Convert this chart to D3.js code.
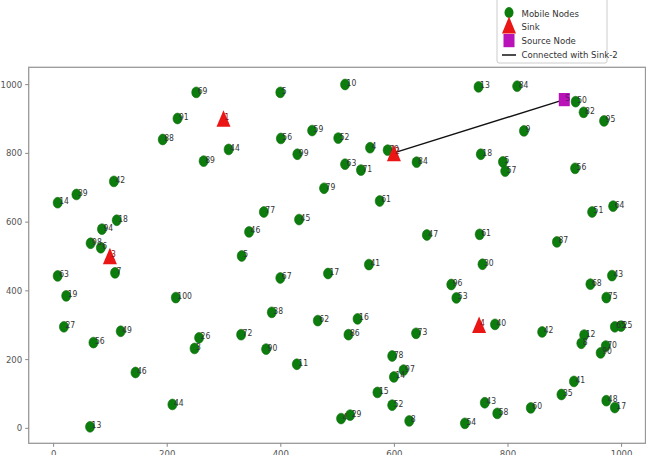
<!DOCTYPE html>
<html>
<head>
<meta charset="utf-8">
<script src="https://cdn.jsdelivr.net/npm/d3@7"></script>
<style>
  body { margin: 0; background: #fff; }
  text { font-family: "Liberation Sans Narrow", "DejaVu Sans Condensed", "Liberation Sans", sans-serif; }
</style>
</head>
<body>
<div id="chart"></div>
<script>
// mobile nodes
const nodeX = [65, 210, 145, 71, 19, 119, 23, 8, 109, 216, 257, 249,
  8, 41, 107, 112, 86, 66, 84, 252, 219, 193, 265,
  400, 514, 309, 401, 456, 430, 502, 558, 589, 514, 542, 477, 575, 371, 433, 345, 332,
  749, 817, 920, 934, 970, 829, 640, 753, 792, 796, 919, 949, 986, 658, 751, 887,
  400, 484, 556, 385, 466, 536, 520, 331, 375, 429, 597, 617, 600, 571, 597, 507, 523, 627, 639,
  756, 701, 710, 778, 861, 935, 930, 973, 964, 984, 946, 974, 989, 1000, 917, 895, 974, 989, 760, 782, 841, 725];
const nodeY = [3, 68, 161, 248, 294, 281, 384, 442, 451, 379, 262, 231,
  655, 679, 717, 604, 578, 537, 524, 976, 900, 839, 776,
  976, 999, 810, 842, 865, 796, 843, 815, 808, 767, 750, 697, 660, 628, 606, 570, 500,
  992, 994, 949, 918, 893, 864, 773, 796, 774, 747, 755, 628, 645, 561, 563, 541,
  436, 449, 475, 336, 312, 317, 271, 271, 229, 185, 209, 168, 148, 103, 66, 27, 37, 20, 275,
  476, 417, 378, 301, 279, 270, 246, 238, 218, 443, 418, 379, 294, 296, 135, 97, 79, 59, 73, 42, 58, 13];
const nodeLabels = ["13", "44", "46", "56", "27", "49", "19", "63", "7", "100", "26", "3",
  "14", "39", "42", "18", "94", "98", "6", "69", "91", "88", "89",
  "5", "10", "44", "56", "59", "99", "52", "4", "70", "63", "71", "79", "61", "77", "45", "46", "5",
  "13", "84", "50", "82", "95", "9", "84", "18", "5", "57", "56", "51", "64", "47", "61", "87",
  "67", "17", "41", "38", "62", "16", "86", "72", "90", "11", "78", "97", "14", "15", "52", "4", "29", "8", "73",
  "30", "96", "53", "40", "42", "12", "8", "70", "90", "43", "68", "75", "65", "25", "41", "35", "48", "17", "43", "58", "60", "54"];

// sinks and source
const sinkX = [300, 600, 100, 750];
const sinkY = [900, 800, 500, 300];
const sinkLabels = ["1", "2", "3", "4"];
const sourceX = [900];
const sourceY = [955];
const sourceLabels = ["S"];

// axis ticks
const xTicks = [0, 200, 400, 600, 800, 1000];
const yTicks = [0, 200, 400, 600, 800, 1000];

const legendLabels = ["Mobile Nodes", "Sink", "Source Node", "Connected with Sink-2"];

const width = 646, height = 455;

var svg = d3.select("#chart").append("svg")
  .attr("width", width)
  .attr("height", height);

var x = d3.scaleLinear().domain([-43, 1043]).range([28.7, 645.5]);
var y = d3.scaleLinear().domain([-45, 1049]).range([443.3, 67.3]);

// frame
svg.append("rect")
  .attr("x", x.range()[0]).attr("y", y.range()[1])
  .attr("width", x.range()[1] - x.range()[0])
  .attr("height", y.range()[0] - y.range()[1])
  .attr("fill", "none")
  .attr("stroke", "#999")
  .attr("stroke-width", 1.3);

// axes
var xAxis = svg.append("g")
  .attr("transform", "translate(0," + y.range()[0] + ")")
  .call(d3.axisBottom(x).tickValues(xTicks).tickFormat(d3.format("d")).tickSize(3.5).tickPadding(3));
var yAxis = svg.append("g")
  .attr("transform", "translate(" + x.range()[0] + ",0)")
  .call(d3.axisLeft(y).tickValues(yTicks).tickFormat(d3.format("d")).tickSize(3.5).tickPadding(3));
[xAxis, yAxis].forEach(function(g) {
  g.select(".domain").remove();
  g.selectAll(".tick line").attr("stroke", "#888");
  g.selectAll(".tick text").attr("fill", "#555").style("font-size", "9.5px");
});

// connection line sink-2 -> source
svg.append("line")
  .attr("x1", x(sinkX[1])).attr("y1", y(sinkY[1]))
  .attr("x2", x(sourceX[0])).attr("y2", y(sourceY[0]))
  .attr("stroke", "#111")
  .attr("stroke-width", 1.5);

// mobile nodes
svg.selectAll(".node")
  .data(nodeX)
  .enter().append("ellipse")
  .attr("class", "node")
  .attr("cx", function(d) { return x(d); })
  .attr("cy", function(d, i) { return y(nodeY[i]); })
  .attr("rx", 4.5)
  .attr("ry", 5.4)
  .attr("fill", "#0c7d0c")
  .attr("stroke", "#0a6a0a")
  .attr("stroke-width", 0.6);

svg.selectAll(".nlabel")
  .data(nodeLabels)
  .enter().append("text")
  .attr("class", "nlabel")
  .attr("x", function(d, i) { return x(nodeX[i]) + 1.5; })
  .attr("y", function(d, i) { return y(nodeY[i]) + 1.5; })
  .attr("fill", "#333")
  .style("font-size", "8.5px")
  .text(function(d) { return d; });

// sinks
var tri = function(cx, cy, w, h) {
  return "M" + cx + "," + (cy - h / 2) + "L" + (cx + w / 2) + "," + (cy + h / 2) + "L" + (cx - w / 2) + "," + (cy + h / 2) + "Z";
};
svg.selectAll(".sink")
  .data(sinkX)
  .enter().append("path")
  .attr("class", "sink")
  .attr("d", function(d, i) { return tri(x(d), y(sinkY[i]), 14, 16.5); })
  .attr("fill", "#ea1515");

svg.selectAll(".slabel")
  .data(sinkLabels)
  .enter().append("text")
  .attr("class", "slabel")
  .attr("x", function(d, i) { return x(sinkX[i]) + 1; })
  .attr("y", function(d, i) { return y(sinkY[i]) + 1; })
  .attr("fill", "#8a1010")
  .style("font-size", "8.5px")
  .text(function(d) { return d; });

// source
svg.selectAll(".source")
  .data(sourceX)
  .enter().append("rect")
  .attr("class", "source")
  .attr("x", function(d) { return x(d) - 5.5; })
  .attr("y", function(d, i) { return y(sourceY[i]) - 6.6; })
  .attr("width", 11)
  .attr("height", 13.2)
  .attr("fill", "#b812b8");

svg.selectAll(".srclabel")
  .data(sourceLabels)
  .enter().append("text")
  .attr("class", "srclabel")
  .attr("x", function(d, i) { return x(sourceX[i]) + 1; })
  .attr("y", function(d, i) { return y(sourceY[i]) + 1; })
  .attr("fill", "#6a106a")
  .style("font-size", "8.5px")
  .text(function(d) { return d; });

// legend
var legend = svg.append("g");
legend.append("rect")
  .attr("x", 497).attr("y", -5)
  .attr("width", 110).attr("height", 68)
  .attr("rx", 2)
  .attr("fill", "#fff")
  .attr("stroke", "#ccc")
  .attr("stroke-width", 1);
var ly = [13.5, 27, 41, 55];
legend.append("ellipse").attr("cx", 509).attr("cy", 12.5).attr("rx", 4.5).attr("ry", 5.4).attr("fill", "#0c7d0c");
legend.append("rect").attr("x", 503.5).attr("y", 34).attr("width", 11).attr("height", 13.2).attr("fill", "#b812b8");
legend.append("path").attr("d", tri(509, 25, 14, 17)).attr("fill", "#ea1515");
legend.append("line").attr("x1", 502).attr("x2", 516).attr("y1", ly[3]).attr("y2", ly[3])
  .attr("stroke", "#111").attr("stroke-width", 1.5);
legend.selectAll(".ltext")
  .data(legendLabels)
  .enter().append("text")
  .attr("class", "ltext")
  .attr("x", 521.5)
  .attr("y", function(d, i) { return ly[i] + 3.3; })
  .attr("fill", "#333")
  .style("font-size", "9.5px")
  .text(function(d) { return d; });
</script>
</body>
</html>
